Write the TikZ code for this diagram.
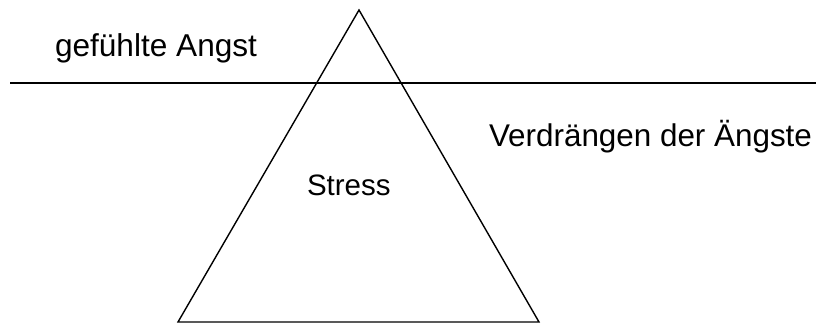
\documentclass[tikz,border=0pt]{standalone}
\usepackage{fontspec}
\setmainfont{Liberation Sans}
\begin{document}
\begin{tikzpicture}[x=1pt,y=-1pt,
  lbl/.style={anchor=base west,inner sep=0pt,outer sep=0pt},
  ln/.style={line width=1.4pt,line join=miter}]
\useasboundingbox (0,0) rectangle (816,323);
\coordinate (apex) at (359,10);
\coordinate (bl) at (178,322);
\coordinate (br) at (539,322);
\coordinate (hl) at (10,83);
\coordinate (hr) at (816,83);
\draw[ln] (apex) -- (bl) -- (br) -- cycle;
\draw[ln] (hl) -- (hr);
\node[lbl] (fa) at (55,57) {\fontsize{31.6}{36}\selectfont gefühlte Angst};
\node[lbl] (va) at (489,147) {\fontsize{31.4}{36}\selectfont Verdrängen der Ängste};
\node[lbl] (st) at (307,196) {\fontsize{29.5}{36}\selectfont Stress};
\end{tikzpicture}
\end{document}
